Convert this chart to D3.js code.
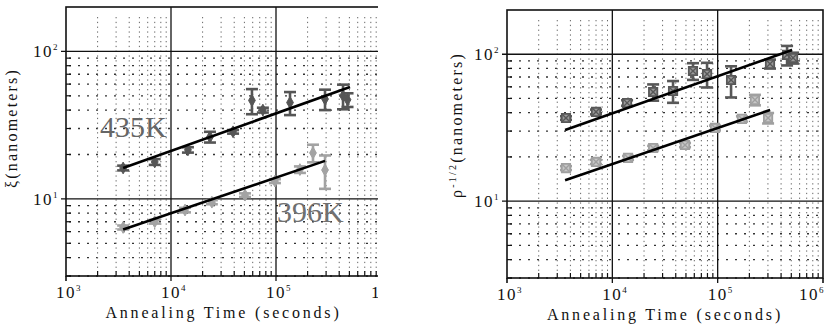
<!DOCTYPE html>
<html lang="en">
<head>
<meta charset="utf-8">
<style>
  body {margin: 0; background: #fff;}
  svg {display: block;}
  #chart text {font-family: "DejaVu Serif", "Liberation Serif", serif;}
</style>
</head>
<body>
<svg id="chart" width="836" height="327"></svg>
<script src="https://d3js.org/d3.v7.min.js"></script>
<script>
// ---- axis values shared by both panels ----
var xTicks = [1e3, 1e4, 1e5, 1e6];
var xTickExp = ["3", "4", "5", "6"];
var yTicks = [10, 100];
var yTickExp = ["1", "2"];
var xTitle = "Annealing Time (seconds)";

// ---- left panel: coherence length xi ----
var xiTime435 = [3500, 7000, 14500, 23500, 39000, 59000, 75000, 136000, 293000, 435000, 480000];
var xiVal435  = [16.2, 17.8, 21.5, 26.3, 28.5, 46.5, 40.0, 45.0, 47.5, 50.0, 47.0];
var xiErr435  = [0.6, 0.8, 0.9, 2.2, 0.8, 9.0, 1.5, 8.0, 7.5, 9.5, 5.0];
var xiTime396 = [3500, 7000, 13600, 24500, 50700, 97700, 169000, 225000, 293000];
var xiVal396  = [6.4, 7.0, 8.4, 9.5, 10.6, 13.2, 15.8, 20.5, 15.7];
var xiErr396  = [0.2, 0.2, 0.3, 0.3, 0.3, 0.4, 0.8, 2.8, 4.0];
var xiFitT435 = [3500, 507000], xiFitV435 = [16.2, 57.4];
var xiFitT396 = [3500, 293000], xiFitV396 = [6.2, 18.1];
var xiLabels = ["435K", "396K"];
var xiLabelT = [2110, 102000], xiLabelV = [26.3, 7.0];

// ---- right panel: rho^-1/2 ----
var rhoTimeHi = [3630, 7000, 13800, 24400, 37700, 58300, 79300, 134000, 314000, 456000, 520000];
var rhoValHi  = [36.8, 40.5, 46.6, 55.3, 56.2, 76.9, 73.4, 66.8, 85.9, 98.9, 94.4];
var rhoErrHi  = [1.0, 1.5, 2.0, 7.0, 9.5, 10.0, 14.0, 16.0, 6.0, 15.0, 8.0];
var rhoTimeLo = [3630, 7000, 14100, 24400, 49000, 94400, 170000, 226000, 301000];
var rhoValLo  = [16.8, 18.5, 19.7, 23.0, 24.1, 31.5, 36.3, 48.9, 36.8];
var rhoErrLo  = [0.5, 0.6, 0.6, 0.8, 0.8, 1.2, 1.5, 4.0, 3.0];
var rhoFitTHi = [3560, 509000], rhoFitVHi = [30.5, 107];
var rhoFitTLo = [3560, 315000], rhoFitVLo = [13.9, 41.8];

var svg = d3.select("#chart");
var serif = "'Liberation Serif', 'DejaVu Serif', serif";

// minor values for dotted grid and small ticks
var xMinor = [];
[1e3, 1e4, 1e5].forEach(function(d) { for (var k = 2; k < 10; k++) xMinor.push(d * k); });
var yMinor = [];
[1, 10, 100].forEach(function(d) {
  for (var k = 2; k < 10; k++) if (d * k >= 3 && d * k < 200) yMinor.push(d * k);
});

function zip(t, v, e) {
  return t.map(function(d, i) { return {t: d, v: v[i], e: e ? e[i] : 0}; });
}

function drawPanel(p) {
  var g = svg.append("g");
  var x = d3.scaleLog().domain([1e3, 1e6]).range(p.xRange);
  var y = d3.scaleLog().domain([3, 200]).range(p.yRange);
  var x0 = p.xRange[0], x1 = p.xRange[1], yTop = p.yRange[1], yBot = p.yRange[0];

  if (p.clipTo) {
    g.append("clipPath").attr("id", p.id + "-clip")
      .append("rect").attr("x", 0).attr("y", 0).attr("width", p.clipTo).attr("height", 327);
    g.attr("clip-path", "url(#" + p.id + "-clip)");
  }

  // dotted minor grid
  g.selectAll(".hdot").data(yMinor).enter().append("line")
      .attr("x1", x0 + 3).attr("x2", x1)
      .attr("y1", function(d) { return y(d); }).attr("y2", function(d) { return y(d); })
      .style("stroke", "#333").style("stroke-width", 1.3).style("stroke-dasharray", "2,7");
  g.selectAll(".vdot").data(xMinor).enter().append("line")
      .attr("x1", function(d) { return x(d); }).attr("x2", function(d) { return x(d); })
      .attr("y1", yTop + 10).attr("y2", yBot - 4)
      .style("stroke", "#666").style("stroke-width", 1).style("stroke-dasharray", "1.3,3.5");

  // major grid
  g.selectAll(".xmaj").data(xTicks.slice(1, 3)).enter().append("line")
      .attr("x1", function(d) { return x(d); }).attr("x2", function(d) { return x(d); })
      .attr("y1", yTop).attr("y2", yBot + 5)
      .style("stroke", "#111").style("stroke-width", 1.3);
  g.selectAll(".ymaj").data(yTicks).enter().append("line")
      .attr("x1", x0 - 5).attr("x2", x1)
      .attr("y1", function(d) { return y(d); }).attr("y2", function(d) { return y(d); })
      .style("stroke", "#111").style("stroke-width", 1.3);

  // frame
  g.append("rect").attr("x", x0).attr("y", yTop)
      .attr("width", x1 - x0).attr("height", yBot - yTop)
      .style("fill", "none").style("stroke", "#111").style("stroke-width", 1.6);

  // small ticks along bottom and left edges
  g.selectAll(".xmin").data(xMinor).enter().append("line")
      .attr("x1", function(d) { return x(d); }).attr("x2", function(d) { return x(d); })
      .attr("y1", yBot).attr("y2", yBot - 5)
      .style("stroke", "#111").style("stroke-width", 1.2);
  g.selectAll(".ymin").data(yMinor).enter().append("line")
      .attr("x1", x0).attr("x2", x0 + 5)
      .attr("y1", function(d) { return y(d); }).attr("y2", function(d) { return y(d); })
      .style("stroke", "#111").style("stroke-width", 1.2);
  g.selectAll(".xend").data([1e3, 1e6]).enter().append("line")
      .attr("x1", function(d) { return x(d); }).attr("x2", function(d) { return x(d); })
      .attr("y1", yBot).attr("y2", yBot + 5)
      .style("stroke", "#111").style("stroke-width", 1.6);

  // tick labels ("10" centred on the tick, exponent hanging right)
  var xl = g.selectAll(".xlab").data(xTicks).enter().append("text")
      .attr("x", function(d, i) { return i === 3 && !p.clipTo ? x(d) + 2 : x(d) + 3; })
      .attr("y", yBot + 22)
      .style("text-anchor", function(d, i) { return i === 3 && !p.clipTo ? "end" : "middle"; })
      .style("font-family", serif)
      .style("font-size", "17px").style("letter-spacing", "1.5px").style("fill", "#111");
  xl.append("tspan").text("10");
  xl.append("tspan").attr("dy", -7).style("font-size", "9px")
      .text(function(d, i) { return xTickExp[i]; });

  var yl = g.selectAll(".ylab").data(yTicks).enter().append("text")
      .attr("x", x0 - 7)
      .attr("y", function(d) { return y(d) + 6; })
      .style("text-anchor", "end").style("font-family", serif)
      .style("font-size", "17px").style("letter-spacing", "1.5px")
      .style("fill", "#111");
  yl.append("tspan").text("10");
  yl.append("tspan").attr("dy", -7).style("font-size", "9px")
      .text(function(d, i) { return yTickExp[i]; });

  // axis titles
  g.append("text")
      .attr("x", (x0 + x1) / 2).attr("y", yBot + 42)
      .style("text-anchor", "middle").style("font-family", serif)
      .style("font-size", "16px").style("letter-spacing", "2.8px")
      .style("fill", "#111")
      .text(xTitle);

  var yt = g.append("text")
      .attr("transform", "translate(" + p.yTitleX + "," + p.yTitleY + ") rotate(-90)")
      .style("text-anchor", "middle").style("font-family", serif)
      .style("font-size", "16px").style("letter-spacing", "2.2px")
      .style("fill", "#111");
  yt.append("tspan").text(p.yTitle[0]);
  if (p.yTitle[1]) {
    yt.append("tspan").attr("dy", -6).style("font-size", "10px").text(p.yTitle[1]);
    yt.append("tspan").attr("dy", 6).text(p.yTitle[2]);
  } else {
    yt.append("tspan").text(p.yTitle[2]);
  }

  // data series: error bars then markers
  p.series.forEach(function(s) {
    var pts = zip(s.t, s.v, s.e);
    var sg = g.append("g");
    var cap = s.cap;
    var eb = sg.selectAll(".eb").data(pts).enter().append("g")
        .style("stroke", s.color).style("stroke-width", 2.6);
    eb.append("line")
        .attr("x1", function(d) { return x(d.t); }).attr("x2", function(d) { return x(d.t); })
        .attr("y1", function(d) { return y(d.v - d.e); }).attr("y2", function(d) { return y(d.v + d.e); });
    eb.append("line")
        .attr("x1", function(d) { return x(d.t) - cap; }).attr("x2", function(d) { return x(d.t) + cap; })
        .attr("y1", function(d) { return y(d.v - d.e); }).attr("y2", function(d) { return y(d.v - d.e); });
    eb.append("line")
        .attr("x1", function(d) { return x(d.t) - cap; }).attr("x2", function(d) { return x(d.t) + cap; })
        .attr("y1", function(d) { return y(d.v + d.e); }).attr("y2", function(d) { return y(d.v + d.e); });

    if (s.marker === "box") {
      sg.selectAll(".mk").data(pts).enter().append("path")
          .attr("transform", function(d) { return "translate(" + x(d.t) + "," + y(d.v) + ")"; })
          .attr("d", d3.symbol().type(d3.symbolSquare).size(70))
          .style("fill", s.fill).style("stroke", s.color).style("stroke-width", 1.8);
      sg.selectAll(".mx").data(pts).enter().append("path")
          .attr("transform", function(d) { return "translate(" + x(d.t) + "," + y(d.v) + ")"; })
          .attr("d", d3.symbol().type(d3.symbolX).size(40))
          .style("fill", "none").style("stroke", s.color).style("stroke-width", 1.4);
    } else {
      sg.selectAll(".mk").data(pts).enter().append("path")
          .attr("transform", function(d) { return "translate(" + x(d.t) + "," + y(d.v) + ")"; })
          .attr("d", d3.symbol().type(d3.symbolDiamond).size(40))
          .style("fill", s.color).style("stroke", s.color).style("stroke-width", 1);
    }
  });

  // power-law fit lines
  var line = d3.line().x(function(d) { return x(d.t); }).y(function(d) { return y(d.v); });
  p.fits.forEach(function(f) {
    g.append("path").datum(zip(f.t, f.v))
        .attr("d", line)
        .style("fill", "none").style("stroke", "#000").style("stroke-width", 2.6);
  });

  // temperature labels
  (p.labels || []).forEach(function(l) {
    g.append("text")
        .attr("x", x(l.t)).attr("y", y(l.v))
        .style("font-family", serif)
        .style("font-size", "30px").style("fill", l.color)
        .text(l.text);
  });
}

drawPanel({
  id: "xi",
  xRange: [66, 381], yRange: [276, 7], clipTo: 378,
  yTitle: ["\u03be", null, "(nanometers)"], yTitleX: 17, yTitleY: 128,
  series: [
    {t: xiTime435, v: xiVal435, e: xiErr435, color: "#555", cap: 6, marker: "dot"},
    {t: xiTime396, v: xiVal396, e: xiErr396, color: "#a3a3a3", cap: 6, marker: "dot"}
  ],
  fits: [{t: xiFitT435, v: xiFitV435}, {t: xiFitT396, v: xiFitV396}],
  labels: [
    {text: xiLabels[0], t: xiLabelT[0], v: xiLabelV[0], color: "#666"},
    {text: xiLabels[1], t: xiLabelT[1], v: xiLabelV[1], color: "#707070"}
  ]
});

drawPanel({
  id: "rho",
  xRange: [507, 823], yRange: [278, 10],
  yTitle: ["\u03c1", "-1/2", "(nanometers)"], yTitleX: 462, yTitleY: 125,
  series: [
    {t: rhoTimeHi, v: rhoValHi, e: rhoErrHi, color: "#585858", fill: "#9a9a9a", cap: 6, marker: "box"},
    {t: rhoTimeLo, v: rhoValLo, e: rhoErrLo, color: "#a0a0a0", fill: "#c8c8c8", cap: 6, marker: "box"}
  ],
  fits: [{t: rhoFitTHi, v: rhoFitVHi}, {t: rhoFitTLo, v: rhoFitVLo}]
});
</script>
</body>
</html>
